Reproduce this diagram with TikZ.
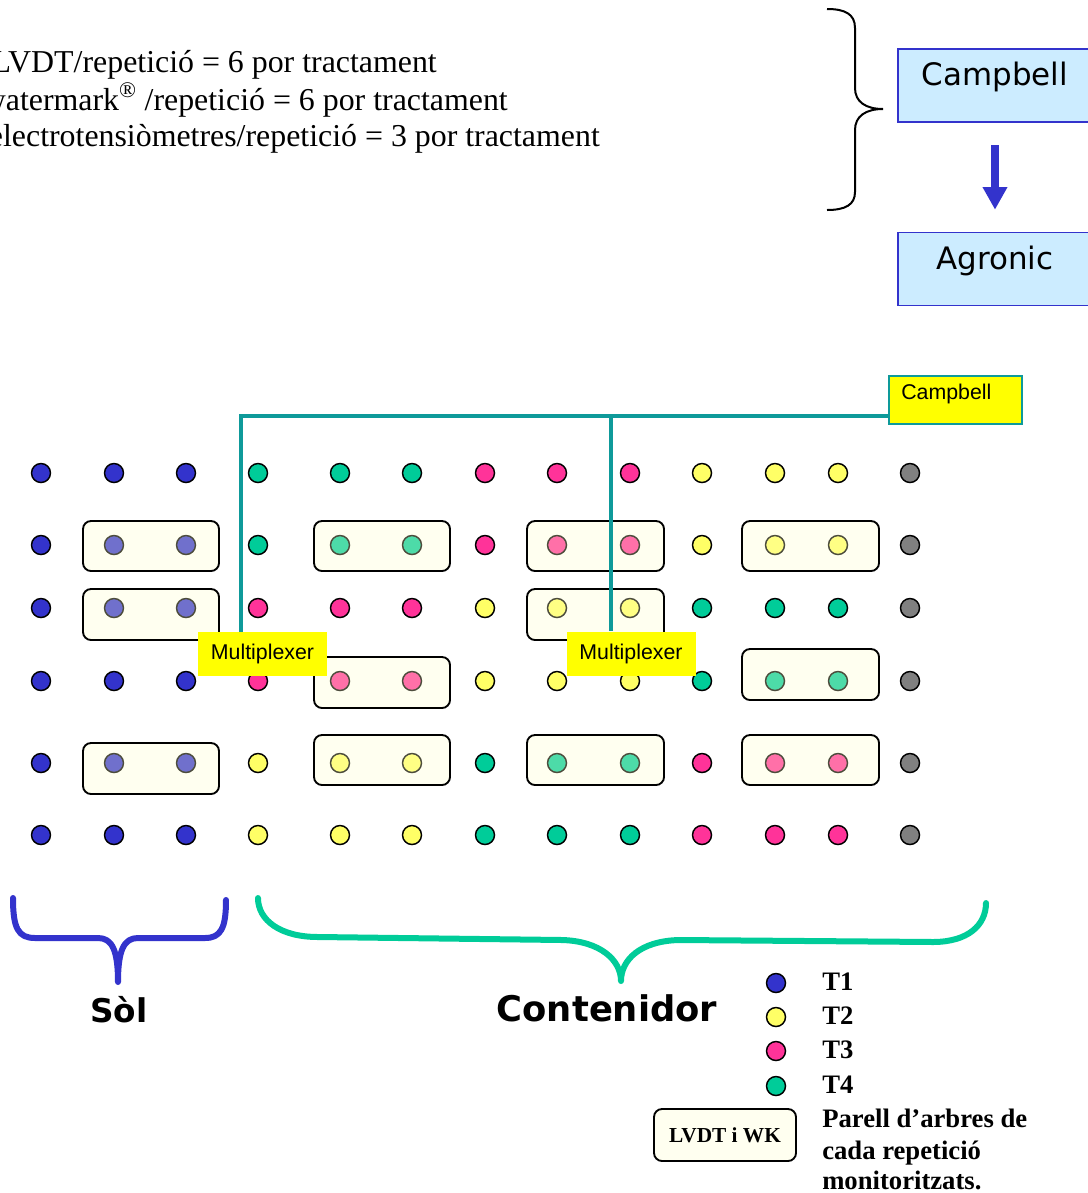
\documentclass[tikz,border=0pt]{standalone}
\usepackage{fontspec}
\setmainfont{Liberation Serif}
\newfontfamily\verd{DejaVu Sans}
\newfontfamily\arialf{Liberation Sans}
\usetikzlibrary{arrows.meta}
\definecolor{dB}{HTML}{3333CC}
\definecolor{dG}{HTML}{00CC99}
\definecolor{dP}{HTML}{FF3399}
\definecolor{dY}{HTML}{FFFF66}
\definecolor{dK}{HTML}{808080}
\definecolor{creamc}{HTML}{FFFFCC}
\definecolor{lblue}{HTML}{CCECFF}
\definecolor{tealc}{HTML}{0E9A9A}
\definecolor{yelc}{HTML}{FFFF00}
\tikzset{
  toptext/.style={inner sep=0pt, font=\fontsize{23.9pt}{27.75pt}\selectfont},
  bluebox/.style={draw=dB, line width=1.2pt, fill=lblue, minimum width=145.5pt, minimum height=54.75pt, inner sep=0pt},
  boxtext/.style={font=\verd\fontsize{23.2pt}{27pt}\selectfont, inner sep=0pt},
  dot/.style={circle, draw=black, line width=1.1pt, minimum size=14.25pt, inner sep=0pt},
  pairbox/.style={draw=black, line width=1.4pt, rounded corners=6pt, fill=creamc, fill opacity=0.3},
  tealline/.style={draw=tealc, line width=3pt},
  mxbox/.style={fill=yelc, minimum width=96.75pt, minimum height=33pt, inner sep=0pt, font=\arialf\fontsize{16pt}{19pt}\selectfont},
  bigbrace/.style={line width=4.5pt, line cap=round, line join=round},
  legtext/.style={font=\bfseries\fontsize{20pt}{24pt}\selectfont, inner sep=0pt, anchor=base west},
}
\begin{document}
\begin{tikzpicture}[x=0.75pt,y=-0.75pt]
\useasboundingbox (0,0) rectangle (1088,1193);

% top text
\node[toptext, anchor=base east] (t1) at (437,72.7) {LVDT/repetició = 6 por tractament};
\node[toptext, anchor=base east] (t2) at (508,110) {watermark\textsuperscript{®} /repetició = 6 por tractament};
\node[toptext, anchor=base east] (t3) at (600,146.7) {electrotensiòmetres/repetició = 3 por tractament};

% top brace
\draw[line width=1.5pt] (827,9) .. controls (845,9) and (855,14) .. (855,28) -- (855,88)
  .. controls (855,102) and (866,109) .. (883,109)
  .. controls (866,109) and (855,116) .. (855,130) -- (855,192)
  .. controls (855,205) and (845,210) .. (827,210);

% Campbell / Agronic
\node[bluebox] (cb) at (995,85.5) {};
\node[boxtext] (cbt) at (995,77) {Campbell};
\node[bluebox] (ag) at (995,269) {};
\node[boxtext] (agt) at (995,261) {Agronic};
\draw[line width=6pt, draw=dB, -{Triangle[width=17.5pt,length=17pt]}, shorten <=17pt, shorten >=16.5pt] (cb) -- (ag);

% grid of dots
\foreach \y/\cols [count=\r] in {
  473/{B,B,B,G,G,G,P,P,P,Y,Y,Y,K},
  545/{B,B,B,G,G,G,P,P,P,Y,Y,Y,K},
  608/{B,B,B,P,P,P,Y,Y,Y,G,G,G,K},
  681/{B,B,B,P,P,P,Y,Y,Y,G,G,G,K},
  763/{B,B,B,Y,Y,Y,G,G,G,P,P,P,K},
  835/{B,B,B,Y,Y,Y,G,G,G,P,P,P,K}} {
  \foreach \cc [count=\i] in \cols {
    \pgfmathsetmacro\xx{{41,114,186,258,340,412,485,557,630,702,775,838,910}[\i-1]}
    \node[dot, fill=d\cc] (d-\r-\i) at (\xx,\y) {};
  }
}

% pair boxes
\foreach \xa/\ya/\xb/\yb in {
  83/521/219/571, 314/521/450/571, 527/521/664/571, 742/521/879/571,
  83/589/219/640, 527/589/664/640,
  314/657/450/708, 742/649/879/700,
  83/743/219/794, 314/735/450/785, 527/735/664/785, 742/735/879/785} {
  \draw[pairbox] (\xa,\ya) rectangle (\xb,\yb);
}

% Campbell logger and multiplexers
\node[mxbox] (mx1) at (262.5,654) {Multiplexer};
\node[mxbox] (mx2) at (631,653.5) {Multiplexer};
\node[fill=yelc, draw=tealc, line width=1.5pt, minimum width=99.75pt, minimum height=36pt, inner sep=0pt] (cy) at (955.5,400) {};
\node[font=\arialf\fontsize{16pt}{19pt}\selectfont, inner sep=0pt, anchor=west] (cyt) at (901,394) {Campbell};
\coordinate (j1) at (241,416);
\coordinate (j2) at (610.5,416);
\draw[tealline] (cy.west |- j1) -- (j1) -- (j1 |- mx1.north);
\draw[tealline] (j2) -- (j2 |- mx2.north);

% bottom braces
\draw[bigbrace, draw=dB] (13,898) .. controls (13,928) and (18,938) .. (35,938) -- (98,938)
  .. controls (112,938) and (118,950) .. (118,982)
  .. controls (118,950) and (124,938) .. (138,938) -- (205,938)
  .. controls (221,938) and (226,928) .. (226,900);
\draw[bigbrace, draw=dG] (258,898) .. controls (258,920) and (280,937) .. (318,937) -- (562,940)
  .. controls (600,941) and (621,960) .. (621,981)
  .. controls (621,960) and (640,941) .. (679,940) -- (933,942)
  .. controls (968,942) and (986,925) .. (986,903);

\node[font=\verd\bfseries\fontsize{24.5pt}{29pt}\selectfont, inner sep=0pt, anchor=base] (sol) at (119,1022) {Sòl};
\node[font=\verd\bfseries\fontsize{26.5pt}{31pt}\selectfont, inner sep=0pt, anchor=base] (cont) at (607,1021) {Contenidor};

% legend
\foreach \cc/\yy/\tt [count=\k] in {B/983/T1, Y/1017/T2, P/1051/T3, G/1086/T4} {
  \node[dot, fill=d\cc] (ld\k) at (776,\yy) {};
  \node[legtext] (lt\k) at (822,\yy+7.5) {\tt};
}
\node[draw=black, line width=1.4pt, rounded corners=6pt, fill=creamc!30, minimum width=106.5pt, minimum height=39pt, inner sep=0pt, font=\bfseries\fontsize{16pt}{19pt}\selectfont] (lb) at (725,1135) {LVDT i WK};
\node[legtext] (lp1) at (822,1127) {Parell d’arbres de};
\node[legtext] (lp2) at (822,1159) {cada repetició};
\node[legtext] (lp3) at (822,1189) {monitoritzats.};
\end{tikzpicture}
\end{document}
